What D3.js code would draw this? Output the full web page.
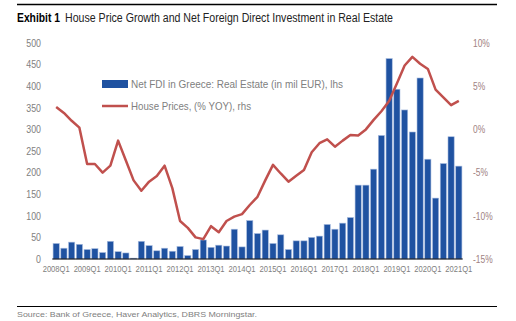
<!DOCTYPE html>
<html>
<head>
<meta charset="utf-8">
<script src="https://cdn.jsdelivr.net/npm/d3@7"></script>
<style>
  body { margin: 0; background: #fff; }
  svg { display: block; font-family: "Liberation Sans", Arial, sans-serif; }
</style>
</head>
<body>
<div class="d3-wrapper"></div>
<script>
const WIDTH = 516, HEIGHT = 321;
const PLOT = { left: 52.3, right: 462.7, top: 43, bottom: 259 };

// 2008Q1 .. 2021Q1
const quarters = d3.range(2008, 2022).flatMap(y => [1, 2, 3, 4].map(q => y + 'Q' + q)).slice(0, 53);
const tickLabels = ['2008Q1', '2009Q1', '2010Q1', '2011Q1', '2012Q1', '2013Q1', '2014Q1',
  '2015Q1', '2016Q1', '2017Q1', '2018Q1', '2019Q1', '2020Q1', '2021Q1'];

// Net FDI in Greece: Real Estate (mil EUR), lhs
const fdi = [36, 25, 39, 34, 22, 24, 15, 41, 17, 14, 2, 41, 31, 19, 25, 18, 29, 8, 22,
  44, 27, 32, 30, 69, 28, 89, 59, 67, 36, 56, 22, 42, 42, 50, 53, 80,
  69, 83, 96, 171, 171, 208, 286, 464, 393, 345, 294, 419, 231, 141, 221, 283, 215];

// House prices, % YOY, rhs
const housePrices = [2.6, 1.9, 1.0, 0.2, -4.0, -4.0, -5.0, -4.2, -1.3, -3.6, -5.9, -7.1, -6.05,
  -5.4, -4.2, -6.8, -10.6, -11.4, -12.5, -12.7, -11.2, -11.9, -10.6, -10.1, -9.8, -8.75, -7.8,
  -5.9, -4.1, -5.1, -6.05, -5.36, -4.7, -2.65, -1.6, -1.15, -2.0, -1.3, -0.65, -0.7, 0.0, 1.1,
  2.1, 3.3, 5.3, 7.4, 8.4, 7.6, 7.0, 4.6, 3.7, 2.8, 3.3];

const leftTicks = d3.range(0, 501, 50);
const rightTicks = [-15, -10, -5, 0, 5, 10];

const BLUE = '#1f52a1', RED = '#c0504d', GREY = '#808080', RED_GREY = '#a08282';

// squeeze text horizontally, the original uses a condensed face
const condense = (sel, k) => sel.each(function () {
  const w = this.getComputedTextLength();
  d3.select(this).attr('textLength', w * k).attr('lengthAdjust', 'spacingAndGlyphs');
});
const fitWidth = (sel, w) => sel.attr('textLength', w).attr('lengthAdjust', 'spacingAndGlyphs');

const xScale = d3.scaleBand().domain(quarters).range([PLOT.left, PLOT.right]).paddingInner(0.2).paddingOuter(0.1);
const yLeft = d3.scaleLinear().domain([0, 500]).range([PLOT.bottom, PLOT.top]);
const yRight = d3.scaleLinear().domain([-15, 10]).range([PLOT.bottom, PLOT.top]);

const svg = d3.select('.d3-wrapper').append('svg')
  .attr('width', WIDTH)
  .attr('height', HEIGHT);

// header
svg.append('line')
  .attr('x1', 17).attr('x2', 497).attr('y1', 4.5).attr('y2', 4.5)
  .attr('stroke', '#000').attr('stroke-width', 1.5);
svg.append('text')
  .attr('x', 17).attr('y', 21.5)
  .style('font-size', '12.5px').style('font-weight', 'bold').attr('fill', '#000')
  .text('Exhibit 1')
  .call(fitWidth, 43);
svg.append('text')
  .attr('x', 65).attr('y', 21.5)
  .style('font-size', '12.5px').attr('fill', '#222')
  .text('House Price Growth and Net Foreign Direct Investment in Real Estate')
  .call(fitWidth, 328);

// axes
const leftAxis = d3.axisLeft(yLeft).tickValues(leftTicks).tickSize(0).tickPadding(0);
svg.append('g')
  .attr('transform', 'translate(41,0)')
  .call(leftAxis)
  .call(g => g.select('.domain').remove())
  .call(g => g.selectAll('text').attr('fill', GREY).style('font-size', '10.5px').style('font-family', null)
    .call(condense, 0.84));

const rightAxis = d3.axisRight(yRight).tickValues(rightTicks).tickSize(0).tickPadding(0)
  .tickFormat(d => d + '%');
svg.append('g')
  .attr('transform', 'translate(473,0)')
  .call(rightAxis)
  .call(g => g.select('.domain').remove())
  .call(g => g.selectAll('text').attr('fill', RED_GREY).style('font-size', '10.5px').style('font-family', null)
    .call(condense, 0.8));

const xAxis = d3.axisBottom(xScale).tickValues(tickLabels).tickSize(0).tickPadding(6);
svg.append('g')
  .attr('transform', `translate(0,${PLOT.bottom})`)
  .call(xAxis)
  .call(g => g.select('.domain').remove())
  .call(g => g.selectAll('text').attr('fill', GREY).style('font-size', '9.5px').style('font-family', null)
    .call(fitWidth, 27));

// bars
svg.append('g')
  .selectAll('rect')
  .data(fdi)
  .enter().append('rect')
  .attr('x', (d, i) => xScale(quarters[i]))
  .attr('y', d => yLeft(d))
  .attr('width', xScale.bandwidth())
  .attr('height', d => yLeft(0) - yLeft(d))
  .attr('fill', BLUE)
  .attr('stroke', '#a9bde0')
  .attr('stroke-width', 0.6);

// baseline
svg.append('line')
  .attr('x1', PLOT.left).attr('x2', PLOT.right)
  .attr('y1', PLOT.bottom).attr('y2', PLOT.bottom)
  .attr('stroke', '#000').attr('stroke-width', 1.2);

// house price line
const line = d3.line()
  .x((d, i) => xScale(quarters[i]) + xScale.bandwidth() / 2)
  .y(d => yRight(d));
svg.append('path')
  .datum(housePrices)
  .attr('d', line)
  .attr('fill', 'none')
  .attr('stroke', RED)
  .attr('stroke-width', 2.5)
  .attr('stroke-linejoin', 'round');

// legend
const legend = svg.append('g').style('font-size', '11.5px');
legend.append('rect')
  .attr('x', 102).attr('y', 80).attr('width', 26).attr('height', 8)
  .attr('fill', BLUE);
legend.append('text')
  .attr('x', 131).attr('y', 84).attr('dy', '0.35em')
  .attr('fill', GREY)
  .text('Net FDI in Greece: Real Estate (in mil EUR), lhs')
  .call(fitWidth, 212);
legend.append('line')
  .attr('x1', 102).attr('x2', 128).attr('y1', 106).attr('y2', 106)
  .attr('stroke', RED).attr('stroke-width', 2.5);
legend.append('text')
  .attr('x', 131).attr('y', 106).attr('dy', '0.35em')
  .attr('fill', GREY)
  .text('House Prices, (% YOY), rhs')
  .call(fitWidth, 120);

// footer
svg.append('line')
  .attr('x1', 17).attr('x2', 497).attr('y1', 306.5).attr('y2', 306.5)
  .attr('stroke', '#000').attr('stroke-width', 1);
svg.append('text')
  .attr('x', 17).attr('y', 316.5)
  .attr('fill', GREY)
  .style('font-size', '8px')
  .text('Source: Bank of Greece, Haver Analytics, DBRS Morningstar.')
  .call(fitWidth, 240);
</script>
</body>
</html>
